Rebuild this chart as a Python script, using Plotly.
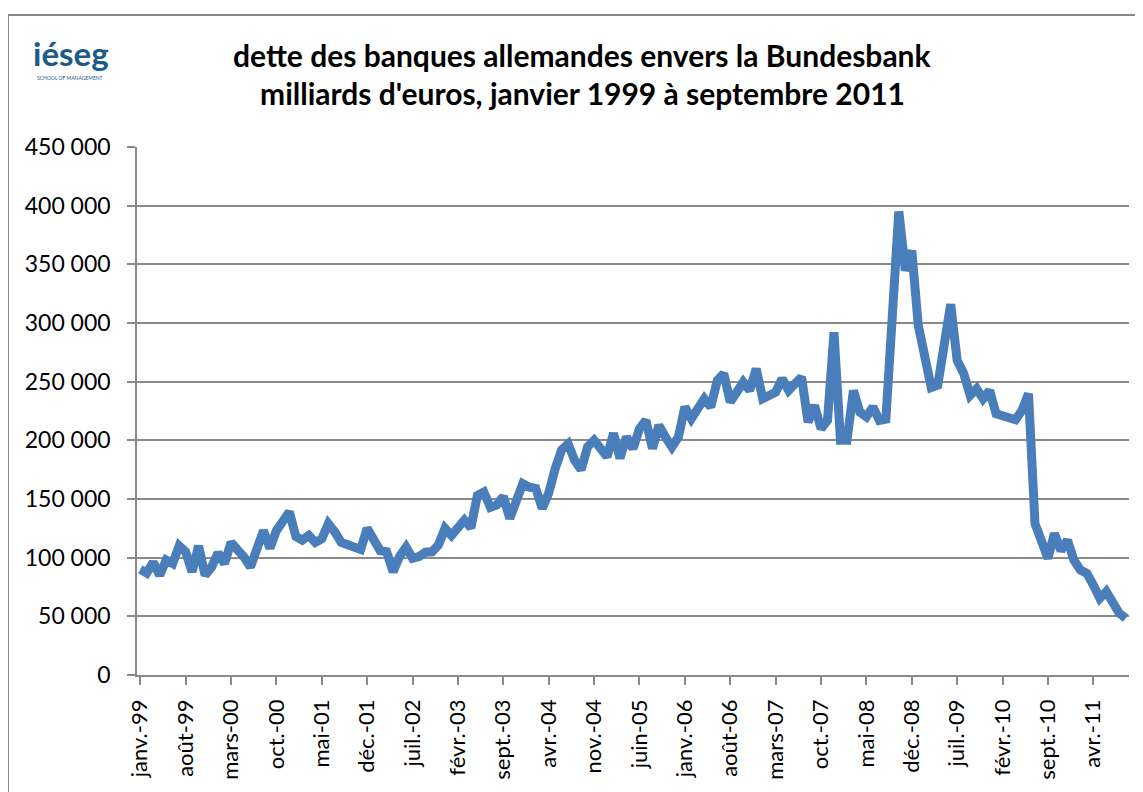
import plotly.graph_objects as go

# Monthly data, janvier 1999 -> septembre 2011 (153 months), millions of euros
values = [
    90000, 87000, 96000, 85000, 98000, 95000, 110000, 105000, 88000, 110000,
    85000, 92000, 104000, 95000, 113000, 108000, 100500, 92000, 110000, 123000,
    108000, 123000, 131000, 139000, 118000, 115000, 119000, 113000, 116000, 129000,
    122000, 113000, 111000, 108500, 107000, 125000, 116000, 106000, 105000, 88000,
    101000, 109000, 99500, 101000, 104600, 105000, 111000, 125000, 119000, 126000,
    132000, 125500, 153000, 156000, 143000, 145000, 152000, 133500, 149000, 163000,
    160000, 159000, 142000, 155000, 176000, 192000, 197000, 183000, 175000, 194500,
    200000, 192000, 186000, 206000, 184700, 203000, 193000, 210000, 217000, 193000,
    212800, 202800, 194300, 202800, 228400, 218400, 225500, 235500, 228400, 251000,
    256800, 232600, 241000, 249600, 242500, 261000, 235500, 238300, 241000, 252500,
    242500, 248300, 253900, 215600, 229800, 210000, 217000, 292000, 200000, 200000,
    242500, 224000, 220000, 228400, 217000, 218000, 305000, 395000, 344700, 361700,
    298000, 272000, 245000, 247000, 279000, 316000, 268000, 257000, 238300, 244000,
    235500, 242500, 222700, 221300, 218400, 217600, 225500, 239700, 129000, 115000,
    99400, 120600, 106000, 115000, 98000, 89400, 86600, 76600, 65300, 71000,
    61100, 52600, 48400,
]

month_names = ["janv.", "févr.", "mars", "avr.", "mai", "juin",
               "juil.", "août", "sept.", "oct.", "nov.", "déc."]
months = [f"{month_names[m]}-{(1999 + y) % 100:02d}"
          for y in range(13) for m in range(12)][:len(values)]

tick_step = 7
tick_idx = list(range(0, len(months), tick_step))
tick_labels = [months[i] for i in tick_idx]

y_ticks = [0, 50000, 100000, 150000, 200000, 250000, 300000, 350000, 400000, 450000]

title_line1 = "dette des banques allemandes envers la Bundesbank"
title_line2 = "milliards d'euros, janvier 1999 à septembre 2011"

FONT = "Lato"
GRID = "#8a8a8a"

fig = go.Figure()
fig.add_trace(go.Scatter(
    x=list(range(len(values))), y=values, mode="lines",
    line=dict(color="#4a7ebb", width=9),
    hoverinfo="x+y", showlegend=False,
))

# page offset (body margin) so the figure fills the 1143x792 window
OFF = 8
PAGE_W, PAGE_H = 1143, 792
W, H = PAGE_W - OFF, PAGE_H - OFF
L, R, T, B = 137 - OFF, 14, 147 - OFF, 117
pw, ph = W - L - R, H - T - B

def px(xp):  # page pixel -> paper x
    return (xp - OFF - L) / pw

def py(yp):  # page pixel -> paper y
    return (H - B - (yp - OFF)) / ph

fig.update_layout(
    width=W, height=H,
    margin=dict(l=L, r=R, t=T, b=B, pad=0),
    paper_bgcolor="white", plot_bgcolor="white",
    separators=", ",
    font=dict(family=FONT, color="black"),
    xaxis=dict(
        range=[-0.5, len(values) - 0.5],
        tickmode="array", tickvals=tick_idx, ticktext=tick_labels,
        tickangle=-90, tickfont=dict(size=22, family=FONT),
        ticks="outside", ticklen=8, tickcolor=GRID, tickwidth=1.5,
        showline=True, linecolor=GRID, linewidth=1.5,
        showgrid=False, zeroline=False, ticklabelstandoff=6,
    ),
    yaxis=dict(
        range=[0, 450000],
        tickmode="array", tickvals=y_ticks,
        tickformat=",d", tickfont=dict(size=23, family=FONT),
        ticks="outside", ticklen=8, tickcolor=GRID, tickwidth=1.5,
        showline=True, linecolor=GRID, linewidth=1.5,
        showgrid=True, gridcolor=GRID, gridwidth=1.5,
        zeroline=False, ticklabelstandoff=12,
    ),
    shapes=[dict(
        type="rect", xref="paper", yref="paper",
        x0=px(8), x1=px(1142), y0=py(805), y1=py(15),
        line=dict(color="#888888", width=2), fillcolor="rgba(0,0,0,0)",
        layer="below",
    )],
    annotations=[
        dict(text=f"<b>{title_line1}</b>", xref="paper", yref="paper",
             x=px(582), y=py(55), showarrow=False, xanchor="center",
             yanchor="middle", font=dict(size=30, family=FONT, color="black")),
        dict(text=f"<b>{title_line2}</b>", xref="paper", yref="paper",
             x=px(582), y=py(93), showarrow=False, xanchor="center",
             yanchor="middle", font=dict(size=30, family=FONT, color="black")),
        dict(text="<b>iéseg</b>", xref="paper", yref="paper",
             x=px(71), y=py(53), showarrow=False, xanchor="center",
             yanchor="middle", font=dict(size=33, family=FONT, color="#1d5b86")),
        dict(text="SCHOOL OF MANAGEMENT", xref="paper", yref="paper",
             x=px(35), y=py(78), showarrow=False, xanchor="left",
             yanchor="middle", font=dict(size=5, family=FONT, color="#1d5b86")),
    ],
)

fig.write_html("out.html")
